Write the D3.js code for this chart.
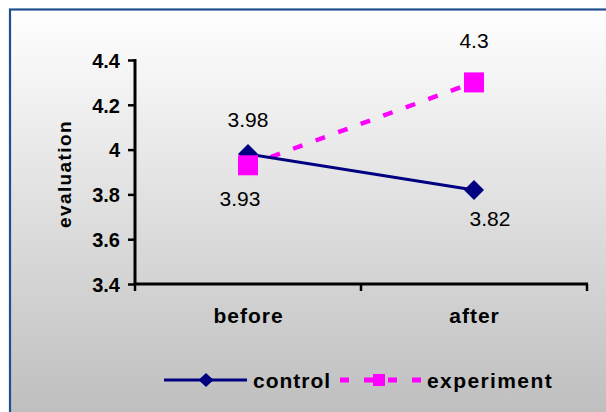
<!DOCTYPE html>
<html><head><meta charset="utf-8">
<script src="https://cdn.jsdelivr.net/npm/d3@7/dist/d3.min.js"></script>
<style>html,body{margin:0;padding:0;background:#fff;}svg{display:block;}</style>
</head><body>
<script>
const categories = ["before", "after"];
const controlValues = [3.98, 3.82];
const experimentValues = [3.93, 4.3];
const seriesNames = ["control", "experiment"];
const yTicks = [3.4, 3.6, 3.8, 4, 4.2, 4.4];

const W = 606, H = 412;
const font = "Liberation Sans, Arial, sans-serif";
const svg = d3.select("body").append("svg").attr("width", W).attr("height", H);
const defs = svg.append("defs");
const grad = defs.append("linearGradient").attr("id", "bg").attr("x1", 0).attr("y1", 0).attr("x2", 0).attr("y2", 1);
grad.append("stop").attr("offset", "0%").attr("stop-color", "#ffffff");
grad.append("stop").attr("offset", "100%").attr("stop-color", "#bcbcbc");

svg.append("rect").attr("x", 10).attr("y", 9.5).attr("width", 620).attr("height", 420)
  .attr("fill", "url(#bg)").attr("stroke", "#1f4f8f").attr("stroke-width", 2.2);

const x0 = 135, x1 = 587, yTop = 60, yBot = 284;
const x = d3.scaleBand().domain(categories).range([x0, x1]);
const y = d3.scaleLinear().domain([3.4, 4.4]).range([yBot, yTop]);
const cx = c => x(c) + x.bandwidth() / 2;

// y axis
const yAxis = d3.axisLeft(y).tickValues(yTicks).tickSize(7).tickFormat(d => d3.format("")(d));
const gy = svg.append("g").attr("transform", `translate(${x0},0)`).call(yAxis);
gy.select(".domain").attr("stroke", "#000").attr("stroke-width", 3).attr("d", `M0,${yTop - 1}V${yBot}`);
gy.selectAll(".tick line").attr("stroke", "#000").attr("stroke-width", 2.5);
gy.selectAll(".tick text").attr("x", -15).attr("dy", "0.36em").attr("font-family", font)
  .attr("font-size", 20).attr("font-weight", "bold").attr("fill", "#000");

// x axis
const gx = svg.append("g").attr("transform", `translate(0,${yBot})`);
gx.append("line").attr("x1", x0 - 1).attr("x2", x1 + 1).attr("stroke", "#000").attr("stroke-width", 3);
const bounds = [x0, ...categories.map(c => x(c) + x.bandwidth())];
gx.selectAll(".xt").data(bounds).join("line").attr("x1", d => d).attr("x2", d => d)
  .attr("y1", 0).attr("y2", 7).attr("stroke", "#000").attr("stroke-width", 2.5);
gx.selectAll(".xl").data(categories).join("text").attr("x", d => cx(d) + 0.5).attr("y", 39)
  .attr("text-anchor", "middle").attr("font-family", font).attr("letter-spacing", 1)
  .attr("font-size", 21).attr("font-weight", "bold").text(d => d);

// y title
svg.append("text").attr("transform", `translate(71,174) rotate(-90)`).attr("text-anchor", "middle")
  .attr("font-family", font).attr("font-size", 19).attr("font-weight", "bold").attr("letter-spacing", 1.4)
  .text("evaluation");

const line = d3.line().x((d, i) => cx(categories[i])).y(d => y(d));
const ctrlColor = "#000080", expColor = "#ff00ff";

// experiment line
svg.append("path").datum(experimentValues).attr("d", line).attr("fill", "none")
  .attr("stroke", expColor).attr("stroke-width", 4.5).attr("stroke-dasharray", "10,14");
// control line
svg.append("path").datum(controlValues).attr("d", line).attr("fill", "none")
  .attr("stroke", ctrlColor).attr("stroke-width", 3);

const diamond = (sx, sy) => `M0,${-sy}L${sx},0L0,${sy}L${-sx},0Z`;
svg.selectAll(".cm").data(controlValues).join("path")
  .attr("transform", (d, i) => `translate(${cx(categories[i])},${y(d)})`)
  .attr("d", diamond(10, 10)).attr("fill", ctrlColor);
svg.selectAll(".em").data(experimentValues).join("rect")
  .attr("x", (d, i) => cx(categories[i]) - 10).attr("y", d => y(d) - 10)
  .attr("width", 20).attr("height", 20).attr("fill", expColor);

// data labels
const ctrlOff = [[0, -27], [16, 36]];
const expOff = [[-8, 41], [0, -34]];
svg.selectAll(".cl").data(controlValues).join("text")
  .attr("x", (d, i) => cx(categories[i]) + ctrlOff[i][0]).attr("y", (d, i) => y(d) + ctrlOff[i][1])
  .attr("text-anchor", "middle").attr("font-family", font).attr("font-size", 21).text(d => d);
svg.selectAll(".el").data(experimentValues).join("text")
  .attr("x", (d, i) => cx(categories[i]) + expOff[i][0]).attr("y", (d, i) => y(d) + expOff[i][1])
  .attr("text-anchor", "middle").attr("font-family", font).attr("font-size", 21).text(d => d);

// legend
const lg = svg.append("g").attr("transform", "translate(0,380)");
lg.append("line").attr("x1", 164).attr("x2", 247).attr("stroke", ctrlColor).attr("stroke-width", 3);
lg.append("path").attr("transform", "translate(206,0)").attr("d", diamond(7.5, 7)).attr("fill", ctrlColor);
lg.append("text").attr("x", 253).attr("y", 8).attr("font-family", font).attr("font-size", 21)
  .attr("font-weight", "bold").attr("letter-spacing", 1).text(seriesNames[0]);
lg.append("line").attr("x1", 340).attr("x2", 421).attr("stroke", expColor).attr("stroke-width", 5)
  .attr("stroke-dasharray", "9,15");
lg.append("rect").attr("x", 373).attr("y", -6).attr("width", 12).attr("height", 12).attr("fill", expColor);
lg.append("text").attr("x", 427).attr("y", 8).attr("font-family", font).attr("font-size", 21)
  .attr("font-weight", "bold").attr("letter-spacing", 1.4).text(seriesNames[1]);
</script>
</body></html>
